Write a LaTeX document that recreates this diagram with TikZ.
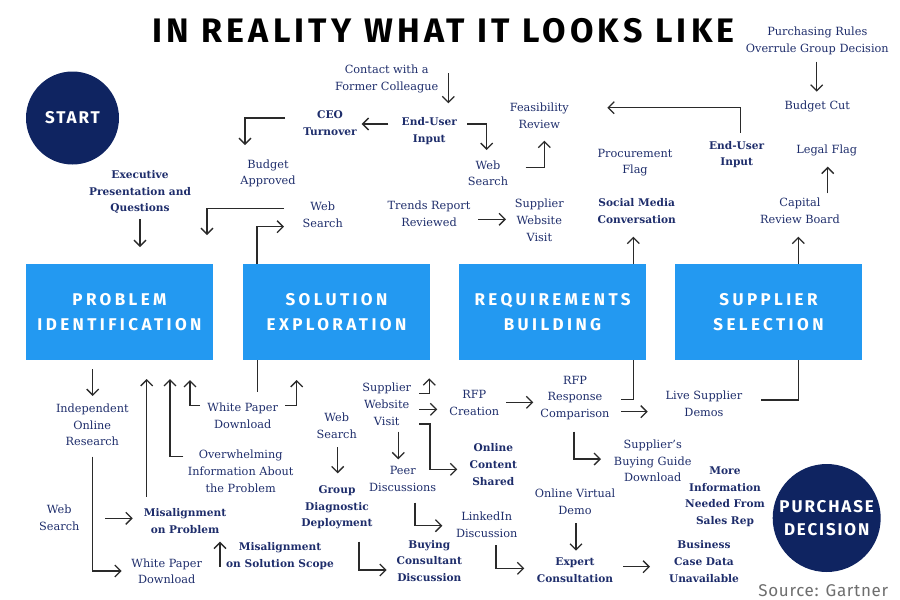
\documentclass[tikz,border=0pt]{standalone}
\usepackage{fontspec}
\setmainfont{DejaVu Serif}
\newfontfamily\headfont[LetterSpace=12.5]{Fira Sans}
\newfontfamily\boxfont[LetterSpace=20]{Fira Sans}
\newfontfamily\circfont[LetterSpace=11]{Fira Sans}
\newfontfamily\srcfont[LetterSpace=4]{Fira Sans}
\usetikzlibrary{arrows.meta,calc}
\definecolor{navytext}{HTML}{1E2D6B}
\definecolor{navycirc}{HTML}{0F2461}
\definecolor{stageblue}{HTML}{2399F1}
\definecolor{linec}{HTML}{2A2A2A}
\definecolor{srcgray}{HTML}{6E6E6E}
\tikzset{
  lbl/.style={font=\fontsize{11.3}{16.7}\selectfont, text=navytext, align=center, inner sep=0pt},
  lblb/.style={font=\fontsize{10.6}{16.7}\selectfont\bfseries, text=navytext, align=center, inner sep=0pt},
  stage/.style={fill=stageblue, minimum width=187pt, minimum height=96pt, inner sep=0pt,
    text=white, font=\boxfont\bfseries\fontsize{17}{25}\selectfont, align=center},
  endpt/.style={circle, fill=navycirc, inner sep=0pt, text=white,
    font=\circfont\bfseries\fontsize{17}{22.5}\selectfont, align=center},
  conn/.style={line width=1.3pt, draw=linec},
  arr/.style={conn, -{Straight Barb[length=6pt,width=12pt]}},
}
\begin{document}
\begin{tikzpicture}[x=1pt,y=-1pt]
\useasboundingbox (0,0) rectangle (900,600);

% title
\node[inner sep=0pt, font=\headfont\bfseries\fontsize{34}{34}\selectfont] (title) at (443.5,30.4) {IN REALITY WHAT IT LOOKS LIKE};

% stages
\node[stage] (b1) at (119.5,312) {PROBLEM\\IDENTIFICATION};
\node[stage] (b2) at (336.5,312) {SOLUTION\\EXPLORATION};
\node[stage] (b3) at (552.5,312) {REQUIREMENTS\\BUILDING};
\node[stage] (b4) at (768.5,312) {SUPPLIER\\SELECTION};

% circles
\node[endpt, minimum size=93pt] (start) at (72.5,118) {START};
\node[endpt, minimum size=108pt] (pd) at (826.7,518) {PURCHASE\\DECISION};

% top labels
\node[lblb] (exec) at (140,192) {Executive\\Presentation and\\Questions};
\node[lbl] (contact) at (386.7,79) {Contact with a\\Former Colleague};
\node[lblb] (eu1) at (429.3,130.8) {End-User\\Input};
\node[lblb] (ceo) at (330,123) {CEO\\Turnover};
\node[lbl] (bapp) at (268,173.5) {Budget\\Approved};
\node[lbl] (ws1) at (488,173.3) {Web\\Search};
\node[lbl] (feas) at (539.3,115.5) {Feasibility\\Review};
\node[lbl] (ws2) at (322.7,214.7) {Web\\Search};
\node[lbl] (trends) at (429,214) {Trends Report\\Reviewed};
\node[lbl] (swv1) at (539.3,220.3) {Supplier\\Website\\Visit};
\node[lbl] (purch) at (817.3,40.7) {Purchasing Rules\\Overrule Group Decision};
\node[lbl] (bcut) at (817.3,106) {Budget Cut};
\node[lblb] (eu2) at (736.7,154.7) {End-User\\Input};
\node[lbl] (proc) at (635,162.7) {Procurement\\Flag};
\node[lbl] (legal) at (826.7,150) {Legal Flag};
\node[lblb] (social) at (636.7,211) {Social Media\\Conversation};
\node[lbl] (capital) at (800,211) {Capital\\Review Board};

% bottom labels
\node[lbl] (ior) at (92.3,424.8) {Independent\\Online\\Research};
\node[lbl] (wpd1) at (242.7,415.5) {White Paper\\Download};
\node[lbl] (overw) at (240.7,471.2) {Overwhelming\\Information About\\the Problem};
\node[lbl] (ws3) at (59.3,518) {Web\\Search};
\node[lblb] (misp) at (185,520.8) {Misalignment\\on Problem};
\node[lbl] (wpd2) at (166.7,571.3) {White Paper\\Download};
\node[lblb] (miss) at (280,556) {Misalignment\\on Solution Scope};
\node[lbl] (ws4) at (336.7,425.7) {Web\\Search};
\node[lblb] (gdd) at (337,507.3) {Group\\Diagnostic\\Deployment};
\node[lbl] (swv2) at (386.7,404.2) {Supplier\\Website\\Visit};
\node[lbl] (rfpc) at (474.3,403) {RFP\\Creation};
\node[lblb] (ocs) at (493.3,464.7) {Online\\Content\\Shared};
\node[lbl] (peer) at (402.7,478.7) {Peer\\Discussions};
\node[lbl] (linked) at (486.7,524.7) {LinkedIn\\Discussion};
\node[lblb] (bcd) at (429.3,560.8) {Buying\\Consultant\\Discussion};
\node[lbl] (ovd) at (575,502) {Online Virtual\\Demo};
\node[lblb] (expert) at (575,570) {Expert\\Consultation};
\node[lbl] (rfpr) at (575,398) {RFP\\Response\\Comparison};
\node[lbl] (lsd) at (704,403.7) {Live Supplier\\Demos};
\node[lbl] (sbg) at (652.7,460.8) {Supplier’s\\Buying Guide\\Download};
\node[lblb] (mi) at (725,496.7) {More\\Information\\Needed From\\Sales Rep};
\node[lblb] (bcdu) at (704,561.5) {Business\\Case Data\\Unavailable};
\node[inner sep=0pt, text=srcgray, font=\srcfont\fontsize{17}{18}\selectfont] (src) at (823.3,591) {Source: Gartner};

% top connectors
\draw[arr] ($(contact)+(61.6,-6)$) -- ($(eu1)+(19,-27.5)$);
\draw[arr] ($(eu1)+(-41,-6.8)$) -- ($(ceo)+(31.7,1)$);
\draw[arr] ($(ceo)+(-45,-5)$) -| ($(bapp)+(-23,-28.5)$);
\draw[arr] ($(eu1)+(38,-6.8)$) -| ($(ws1)+(-1.3,-23.3)$);
\draw[arr] ($(ws1)+(37.7,-6)$) -| ($(feas)+(5,25.2)$);
\draw[arr] ($(eu2)+(4,-22)$) |- ($(feas)+(68,-7.8)$);
\draw[arr] ($(purch)+(-0.6,21)$) -- ($(bcut)+(-0.6,-14.3)$);
\draw[arr] ($(capital)+(27.7,-17.7)$) -- ($(legal)+(1,16.7)$);
\draw[arr] ($(b3)+(80.8,-48)$) -- ($(social)+(-3.4,25.7)$);
\draw[arr] ($(b4)+(29.8,-48)$) -- ($(capital)+(-1.7,25.7)$);
\draw[arr] ($(exec)+(0,27)$) -- ($(b1)+(20.5,-65)$);
\draw[arr] ($(ws2)+(-38.7,-6)$) -| ($(b1)+(87.5,-77)$);
\draw[arr] ($(b2)+(-79.5,-48)$) |- ($(ws2)+(-38.7,12)$);
\draw[arr] ($(trends)+(49,5.3)$) -- ($(swv1)+(-33.3,-1)$);

% bottom connectors
\draw[arr] ($(b1)+(-26.8,57.3)$) -- ($(ior)+(0.4,-28.8)$);
\draw[arr] ($(ior)+(0.4,31.9)$) |- ($(wpd2)+(-45,-0.3)$);
\draw[arr] ($(ws3)+(45.7,0.3)$) -- ($(misp)+(-52.3,-2.5)$);
\draw[arr] ($(misp)+(-38.3,-24.1)$) -- ($(b1)+(27.2,67)$);
\draw[arr] ($(overw)+(-57.4,-14.5)$) -| ($(b1)+(50.5,67)$);
\draw[arr] ($(wpd1)+(-42.7,-9.8)$) -| ($(b1)+(70.5,68)$);
\draw[arr] ($(wpd1)+(42.3,-9.8)$) -| ($(b2)+(-39.8,68)$);
\draw[conn] ($(b2)+(-78.8,48)$) -- ($(wpd1)+(15,-23.8)$);
\draw[arr] ($(miss)+(-60,10.7)$) -- ($(misp)+(35,20.9)$);
\draw[arr] ($(ws4)+(1,21.6)$) -- ($(gdd)+(0.7,-34)$);
\draw[arr] ($(swv2)+(32.6,-10.9)$) -| ($(b2)+(92.8,66.3)$);
\draw[arr] ($(swv2)+(32.6,5.1)$) -- ($(rfpc)+(-37,6.3)$);
\draw[arr] ($(swv2)+(32.6,19.8)$) -- ++(10.7,0) |- ($(ocs)+(-36,4.6)$);
\draw[arr] ($(swv2)+(11.6,27.5)$) -- ($(peer)+(-4.4,-19.4)$);
\draw[arr] ($(peer)+(12.3,24)$) |- ($(linked)+(-44.4,1)$);
\draw[arr] ($(gdd)+(22,34.4)$) |- ($(bcd)+(-42.6,9.2)$);
\draw[arr] ($(linked)+(9.3,20.3)$) |- ($(expert)+(-50.7,-1.7)$);
\draw[arr] ($(ovd)+(1,21.3)$) -- ($(expert)+(1,-19.3)$);
\draw[arr] ($(rfpc)+(31.7,-0.7)$) -- ($(rfpr)+(-41.7,4.3)$);
\draw[conn] ($(b3)+(80.8,48)$) |- ($(rfpr)+(46,1.3)$);
\draw[arr] ($(rfpr)+(46,13.7)$) -- ($(lsd)+(-56.3,8)$);
\draw[arr] ($(rfpr)+(-1,33.7)$) |- ($(sbg)+(-51.7,-1.8)$);
\draw[arr] ($(expert)+(48.3,-3.3)$) -- ($(bcdu)+(-54,5.2)$);
\draw[conn] ($(b4)+(30.2,48)$) |- ($(lsd)+(57,-3.7)$);
\end{tikzpicture}
\end{document}
